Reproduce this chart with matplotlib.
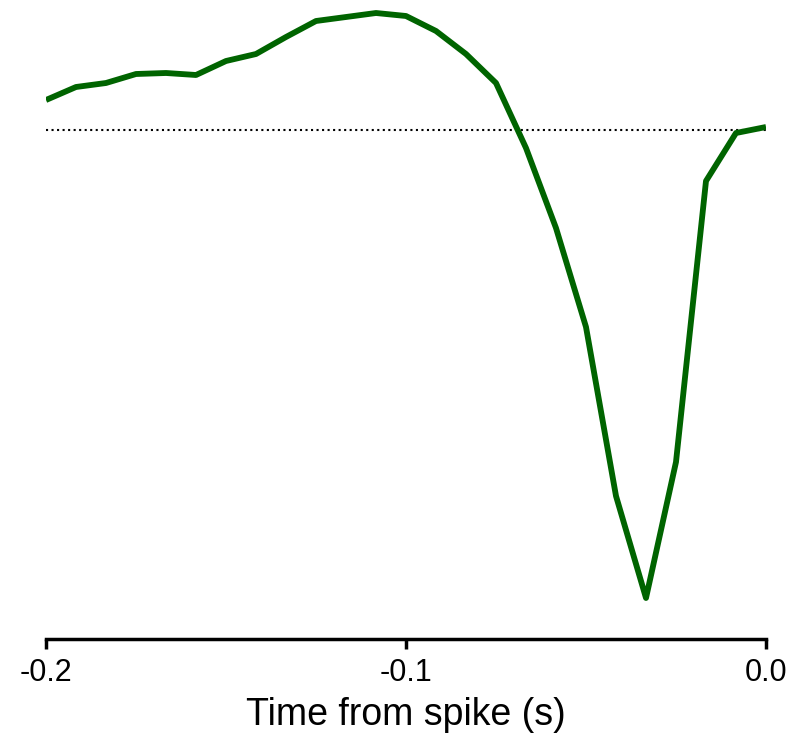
import matplotlib
matplotlib.use("Agg")
import matplotlib.pyplot as plt
import numpy as np

plt.rcParams['font.family'] = ['Liberation Sans', 'DejaVu Sans']

# spike-triggered average, sampled every 1/120 s
time = np.linspace(-0.2, 0.0, 25)
sta = [0.30, 0.43, 0.47, 0.56, 0.57, 0.55, 0.69, 0.76, 0.93, 1.09,
       1.13, 1.17, 1.14, 0.99, 0.76, 0.47, -0.18, -0.98, -1.97, -3.66,
       -4.68, -3.32, -0.51, -0.03, 0.03]
baseline = 0.0
xticks = [-0.2, -0.1, 0.0]
xlabels = ["-0.2", "-0.1", "0.0"]

fig = plt.figure(figsize=(8.03, 7.36), dpi=100)
ax = fig.add_axes([46/803, 97/736, 720/803, 639/736])

ax.plot([time[0], time[-1]], [baseline, baseline], color="black", lw=1.5, ls=":")
ax.plot(time, sta, color="#006400", lw=4.2, solid_capstyle="butt")

ax.set_xlim(-0.2, 0.0)
ax.set_ylim(-5.09, 1.30)
ax.set_xticks(xticks)
ax.set_xticklabels(xlabels, fontsize=22)
ax.set_yticks([])
ax.tick_params(axis="x", length=7, width=2.5, pad=6.5)
for s in ["top", "right", "left"]:
    ax.spines[s].set_visible(False)
ax.spines["bottom"].set_linewidth(2.5)
ax.set_xlabel("Time from spike (s)", fontsize=27, labelpad=7)
ax.patch.set_alpha(0)

plt.savefig("out.png", dpi=100)
